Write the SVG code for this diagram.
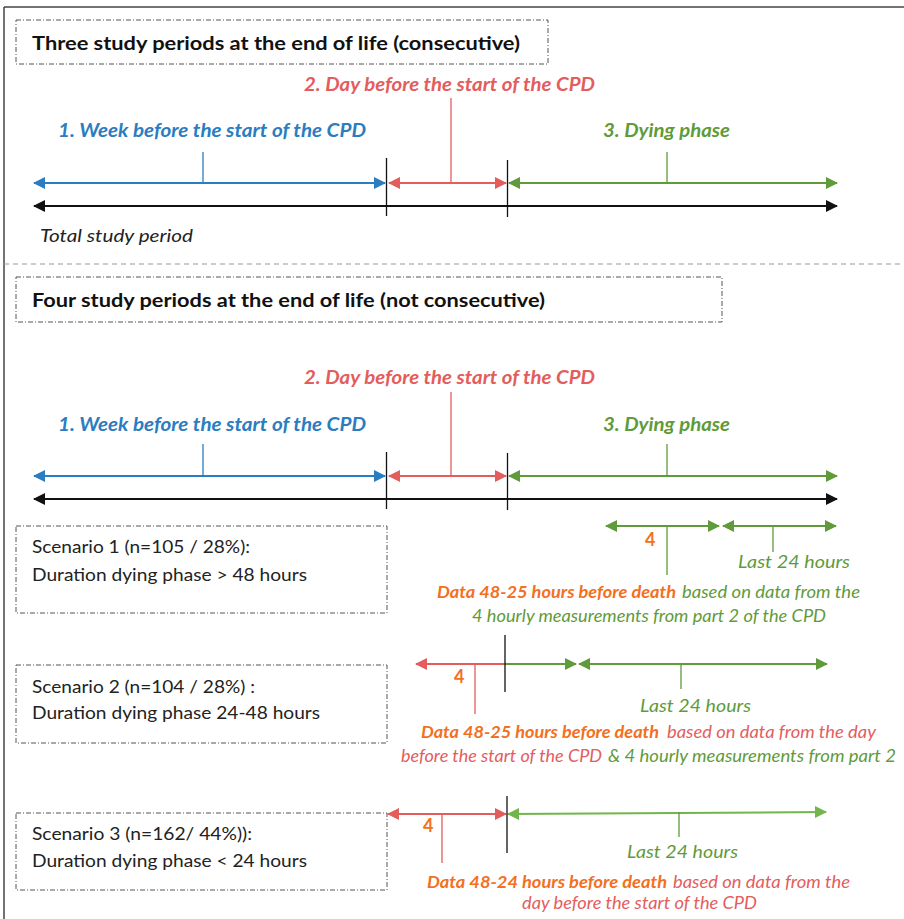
<svg xmlns="http://www.w3.org/2000/svg" width="904" height="919" viewBox="0 0 904 919">
<style>
text{font-family:Lato,"Liberation Sans",sans-serif}
.box{fill:none;stroke:#555;stroke-width:1;stroke-dasharray:5 2 1 2}
.title{font-size:19px;font-weight:bold;fill:#111}
.lab{font-size:18px;font-weight:bold;font-style:italic}
.it{font-size:17px;font-style:italic}
.sc{font-size:18px;fill:#222}
.b{fill:#2A7DC0}.r{fill:#E35D5D}.g{fill:#5F9B3A}.o{fill:#F37021}.k{fill:#222}
.four{font-size:18px;font-weight:bold;fill:#F37021}
.ln{stroke-width:2;fill:none}
.tk{stroke-width:1.3;fill:none}
</style>
<defs>
<marker id="ab" markerUnits="userSpaceOnUse" markerWidth="13" markerHeight="13" refX="11" refY="6" orient="auto-start-reverse"><path d="M0,0 L12,6 L0,12 z" fill="#2A7DC0"/></marker>
<marker id="ar" markerUnits="userSpaceOnUse" markerWidth="13" markerHeight="13" refX="11" refY="6" orient="auto-start-reverse"><path d="M0,0 L12,6 L0,12 z" fill="#E35D5D"/></marker>
<marker id="ag" markerUnits="userSpaceOnUse" markerWidth="13" markerHeight="13" refX="11" refY="6" orient="auto-start-reverse"><path d="M0,0 L12,6 L0,12 z" fill="#5F9B3A"/></marker>
<marker id="al" markerUnits="userSpaceOnUse" markerWidth="13" markerHeight="13" refX="11" refY="6" orient="auto-start-reverse"><path d="M0,0 L12,6 L0,12 z" fill="#72B54A"/></marker>
<marker id="ak" markerUnits="userSpaceOnUse" markerWidth="13" markerHeight="13" refX="11" refY="6" orient="auto-start-reverse"><path d="M0,0 L12,6 L0,12 z" fill="#111"/></marker>
</defs>
<rect width="904" height="919" fill="#fff"/>
<!-- frame -->
<line x1="4" y1="7" x2="904" y2="7" stroke="#444" stroke-width="1.5"/>
<line x1="4" y1="7" x2="4" y2="919" stroke="#444" stroke-width="1.5"/>
<line x1="4" y1="264" x2="904" y2="264" stroke="#999" stroke-width="1.2" stroke-dasharray="5 4"/>

<g id="title1"><rect class="box" x="16" y="20" width="532" height="44"/>
<text class="title" x="32" y="50" textLength="488" lengthAdjust="spacingAndGlyphs">Three study periods at the end of life (consecutive)</text></g>
<g id="label1-day"><text class="lab r" x="304" y="91" textLength="291" lengthAdjust="spacingAndGlyphs">2. Day before the start of the CPD</text></g>
<g id="label1-week"><text class="lab b" x="58" y="137" textLength="308" lengthAdjust="spacingAndGlyphs">1. Week before the start of the CPD</text></g>
<g id="label1-dying"><text class="lab g" x="603" y="137" textLength="127" lengthAdjust="spacingAndGlyphs">3. Dying phase</text></g>
<g id="label1-total"><text class="it k" x="40" y="242" textLength="153" lengthAdjust="spacingAndGlyphs">Total study period</text></g>

<g id="title2"><rect class="box" x="16" y="277" width="706" height="45"/>
<text class="title" x="32" y="307" textLength="513" lengthAdjust="spacingAndGlyphs">Four study periods at the end of life (not consecutive)</text></g>
<g id="label2-day"><text class="lab r" x="304" y="384" textLength="291" lengthAdjust="spacingAndGlyphs">2. Day before the start of the CPD</text></g>
<g id="label2-week"><text class="lab b" x="58" y="431" textLength="308" lengthAdjust="spacingAndGlyphs">1. Week before the start of the CPD</text></g>
<g id="label2-dying"><text class="lab g" x="603" y="431" textLength="127" lengthAdjust="spacingAndGlyphs">3. Dying phase</text></g>

<g id="scenario1"><rect class="box" x="16" y="526" width="371" height="87"/>
<text class="sc" x="32" y="553" textLength="218" lengthAdjust="spacingAndGlyphs">Scenario 1 (n=105 / 28%):</text>
<text class="sc" x="32" y="581" textLength="275" lengthAdjust="spacingAndGlyphs">Duration dying phase &gt; 48 hours</text></g>
<g id="scenario2"><rect class="box" x="16" y="665" width="371" height="78"/>
<text class="sc" x="32" y="693" textLength="223" lengthAdjust="spacingAndGlyphs">Scenario 2 (n=104 / 28%) :</text>
<text class="sc" x="32" y="719" textLength="288" lengthAdjust="spacingAndGlyphs">Duration dying phase 24-48 hours</text></g>
<g id="scenario3"><rect class="box" x="16" y="813" width="371" height="77"/>
<text class="sc" x="32" y="840" textLength="220" lengthAdjust="spacingAndGlyphs">Scenario 3 (n=162/ 44%)):</text>
<text class="sc" x="32" y="867" textLength="275" lengthAdjust="spacingAndGlyphs">Duration dying phase &lt; 24 hours</text></g>

<g id="s1-labels">
<text class="four" x="645" y="546">4</text>
<text class="it g" x="738" y="568" font-size="18" textLength="112" lengthAdjust="spacingAndGlyphs">Last 24 hours</text>
<text class="it o" font-weight="bold" x="437" y="598" textLength="239" lengthAdjust="spacingAndGlyphs">Data 48-25 hours before death</text>
<text class="it g" x="682" y="598" textLength="178" lengthAdjust="spacingAndGlyphs">based on data from the</text>
<text class="it g" x="472" y="622" textLength="354" lengthAdjust="spacingAndGlyphs">4 hourly measurements from part 2 of the CPD</text>
</g>
<g id="s2-labels">
<text class="four" x="454" y="683">4</text>
<text class="it g" x="640" y="712" font-size="18" textLength="111" lengthAdjust="spacingAndGlyphs">Last 24 hours</text>
<text class="it o" font-weight="bold" x="421" y="738" textLength="238" lengthAdjust="spacingAndGlyphs">Data 48-25 hours before death</text>
<text class="it r" x="667" y="738" textLength="209" lengthAdjust="spacingAndGlyphs">based on data from the day</text>
<text class="it r" x="401" y="762" textLength="201" lengthAdjust="spacingAndGlyphs">before the start of the CPD</text>
<text class="it g" x="608" y="762" textLength="288" lengthAdjust="spacingAndGlyphs">&amp; 4 hourly measurements from part 2</text>
</g>
<g id="s3-labels">
<text class="four" x="423" y="832">4</text>
<text class="it g" x="627" y="858" font-size="18" textLength="111" lengthAdjust="spacingAndGlyphs">Last 24 hours</text>
<text class="it o" font-weight="bold" x="427" y="888" textLength="240" lengthAdjust="spacingAndGlyphs">Data 48-24 hours before death</text>
<text class="it r" x="673" y="888" textLength="177" lengthAdjust="spacingAndGlyphs">based on data from the</text>
<text class="it r" x="522" y="909" textLength="235" lengthAdjust="spacingAndGlyphs">day before the start of the CPD</text>
</g>

<g id="connectors">
<!-- section 1 -->
<line class="tk" x1="451" y1="98" x2="451" y2="183" stroke="#E35D5D"/>
<line class="tk" x1="203" y1="152" x2="203" y2="183" stroke="#2A7DC0"/>
<line class="tk" x1="667" y1="152" x2="667" y2="183" stroke="#5F9B3A"/>
<line class="ln" x1="34" y1="183" x2="385" y2="183" stroke="#2A7DC0" marker-start="url(#ab)" marker-end="url(#ab)"/>
<line class="ln" x1="389" y1="183" x2="506" y2="183" stroke="#E35D5D" marker-start="url(#ar)" marker-end="url(#ar)"/>
<line class="ln" x1="509" y1="183" x2="837" y2="183" stroke="#5F9B3A" marker-start="url(#ag)" marker-end="url(#ag)"/>
<line class="ln" x1="34" y1="206" x2="837" y2="206" stroke="#111" marker-start="url(#ak)" marker-end="url(#ak)"/>
<line class="tk" x1="386.5" y1="158" x2="386.5" y2="216" stroke="#111"/>
<line class="tk" x1="507.5" y1="160" x2="507.5" y2="217" stroke="#111"/>
<!-- section 2 -->
<line class="tk" x1="451" y1="392" x2="451" y2="476" stroke="#E35D5D"/>
<line class="tk" x1="203" y1="444" x2="203" y2="476" stroke="#2A7DC0"/>
<line class="tk" x1="667" y1="444" x2="667" y2="476" stroke="#5F9B3A"/>
<line class="ln" x1="34" y1="476" x2="385" y2="476" stroke="#2A7DC0" marker-start="url(#ab)" marker-end="url(#ab)"/>
<line class="ln" x1="389" y1="476" x2="506" y2="476" stroke="#E35D5D" marker-start="url(#ar)" marker-end="url(#ar)"/>
<line class="ln" x1="509" y1="476" x2="837" y2="476" stroke="#5F9B3A" marker-start="url(#ag)" marker-end="url(#ag)"/>
<line class="ln" x1="34" y1="499" x2="837" y2="499" stroke="#111" marker-start="url(#ak)" marker-end="url(#ak)"/>
<line class="tk" x1="386.5" y1="452" x2="386.5" y2="509" stroke="#111"/>
<line class="tk" x1="507.5" y1="453" x2="507.5" y2="510" stroke="#111"/>
<!-- scenario 1 -->
<line class="ln" x1="606" y1="526" x2="719" y2="526" stroke="#5F9B3A" marker-start="url(#ag)" marker-end="url(#ag)"/>
<line class="ln" x1="723" y1="526" x2="836" y2="526" stroke="#5F9B3A" marker-start="url(#ag)" marker-end="url(#ag)"/>
<line class="tk" x1="667" y1="526" x2="667" y2="575" stroke="#5F9B3A"/>
<line class="tk" x1="773" y1="526" x2="773" y2="552" stroke="#5F9B3A"/>
<!-- scenario 2 -->
<line class="ln" x1="416" y1="664" x2="505" y2="664" stroke="#E35D5D" marker-start="url(#ar)"/>
<line class="ln" x1="505" y1="664" x2="576" y2="664" stroke="#5F9B3A" marker-end="url(#ag)"/>
<line class="ln" x1="579" y1="664" x2="827" y2="664" stroke="#5F9B3A" marker-start="url(#ag)" marker-end="url(#ag)"/>
<line class="tk" x1="505" y1="635" x2="505" y2="692" stroke="#111"/>
<line class="tk" x1="475" y1="664" x2="475" y2="714" stroke="#E35D5D"/>
<line class="tk" x1="681" y1="664" x2="681" y2="689" stroke="#5F9B3A"/>
<!-- scenario 3 -->
<line class="ln" x1="388" y1="814" x2="506" y2="814" stroke="#E35D5D" marker-start="url(#ar)" marker-end="url(#ar)"/>
<line class="ln" x1="508" y1="814" x2="826" y2="812" stroke="#72B54A" marker-start="url(#al)" marker-end="url(#al)"/>
<line class="tk" x1="507" y1="796" x2="507" y2="853" stroke="#111"/>
<line class="tk" x1="442" y1="814" x2="442" y2="863" stroke="#E35D5D"/>
<line class="tk" x1="679" y1="812" x2="679" y2="837" stroke="#5F9B3A"/>
</g>
</svg>
